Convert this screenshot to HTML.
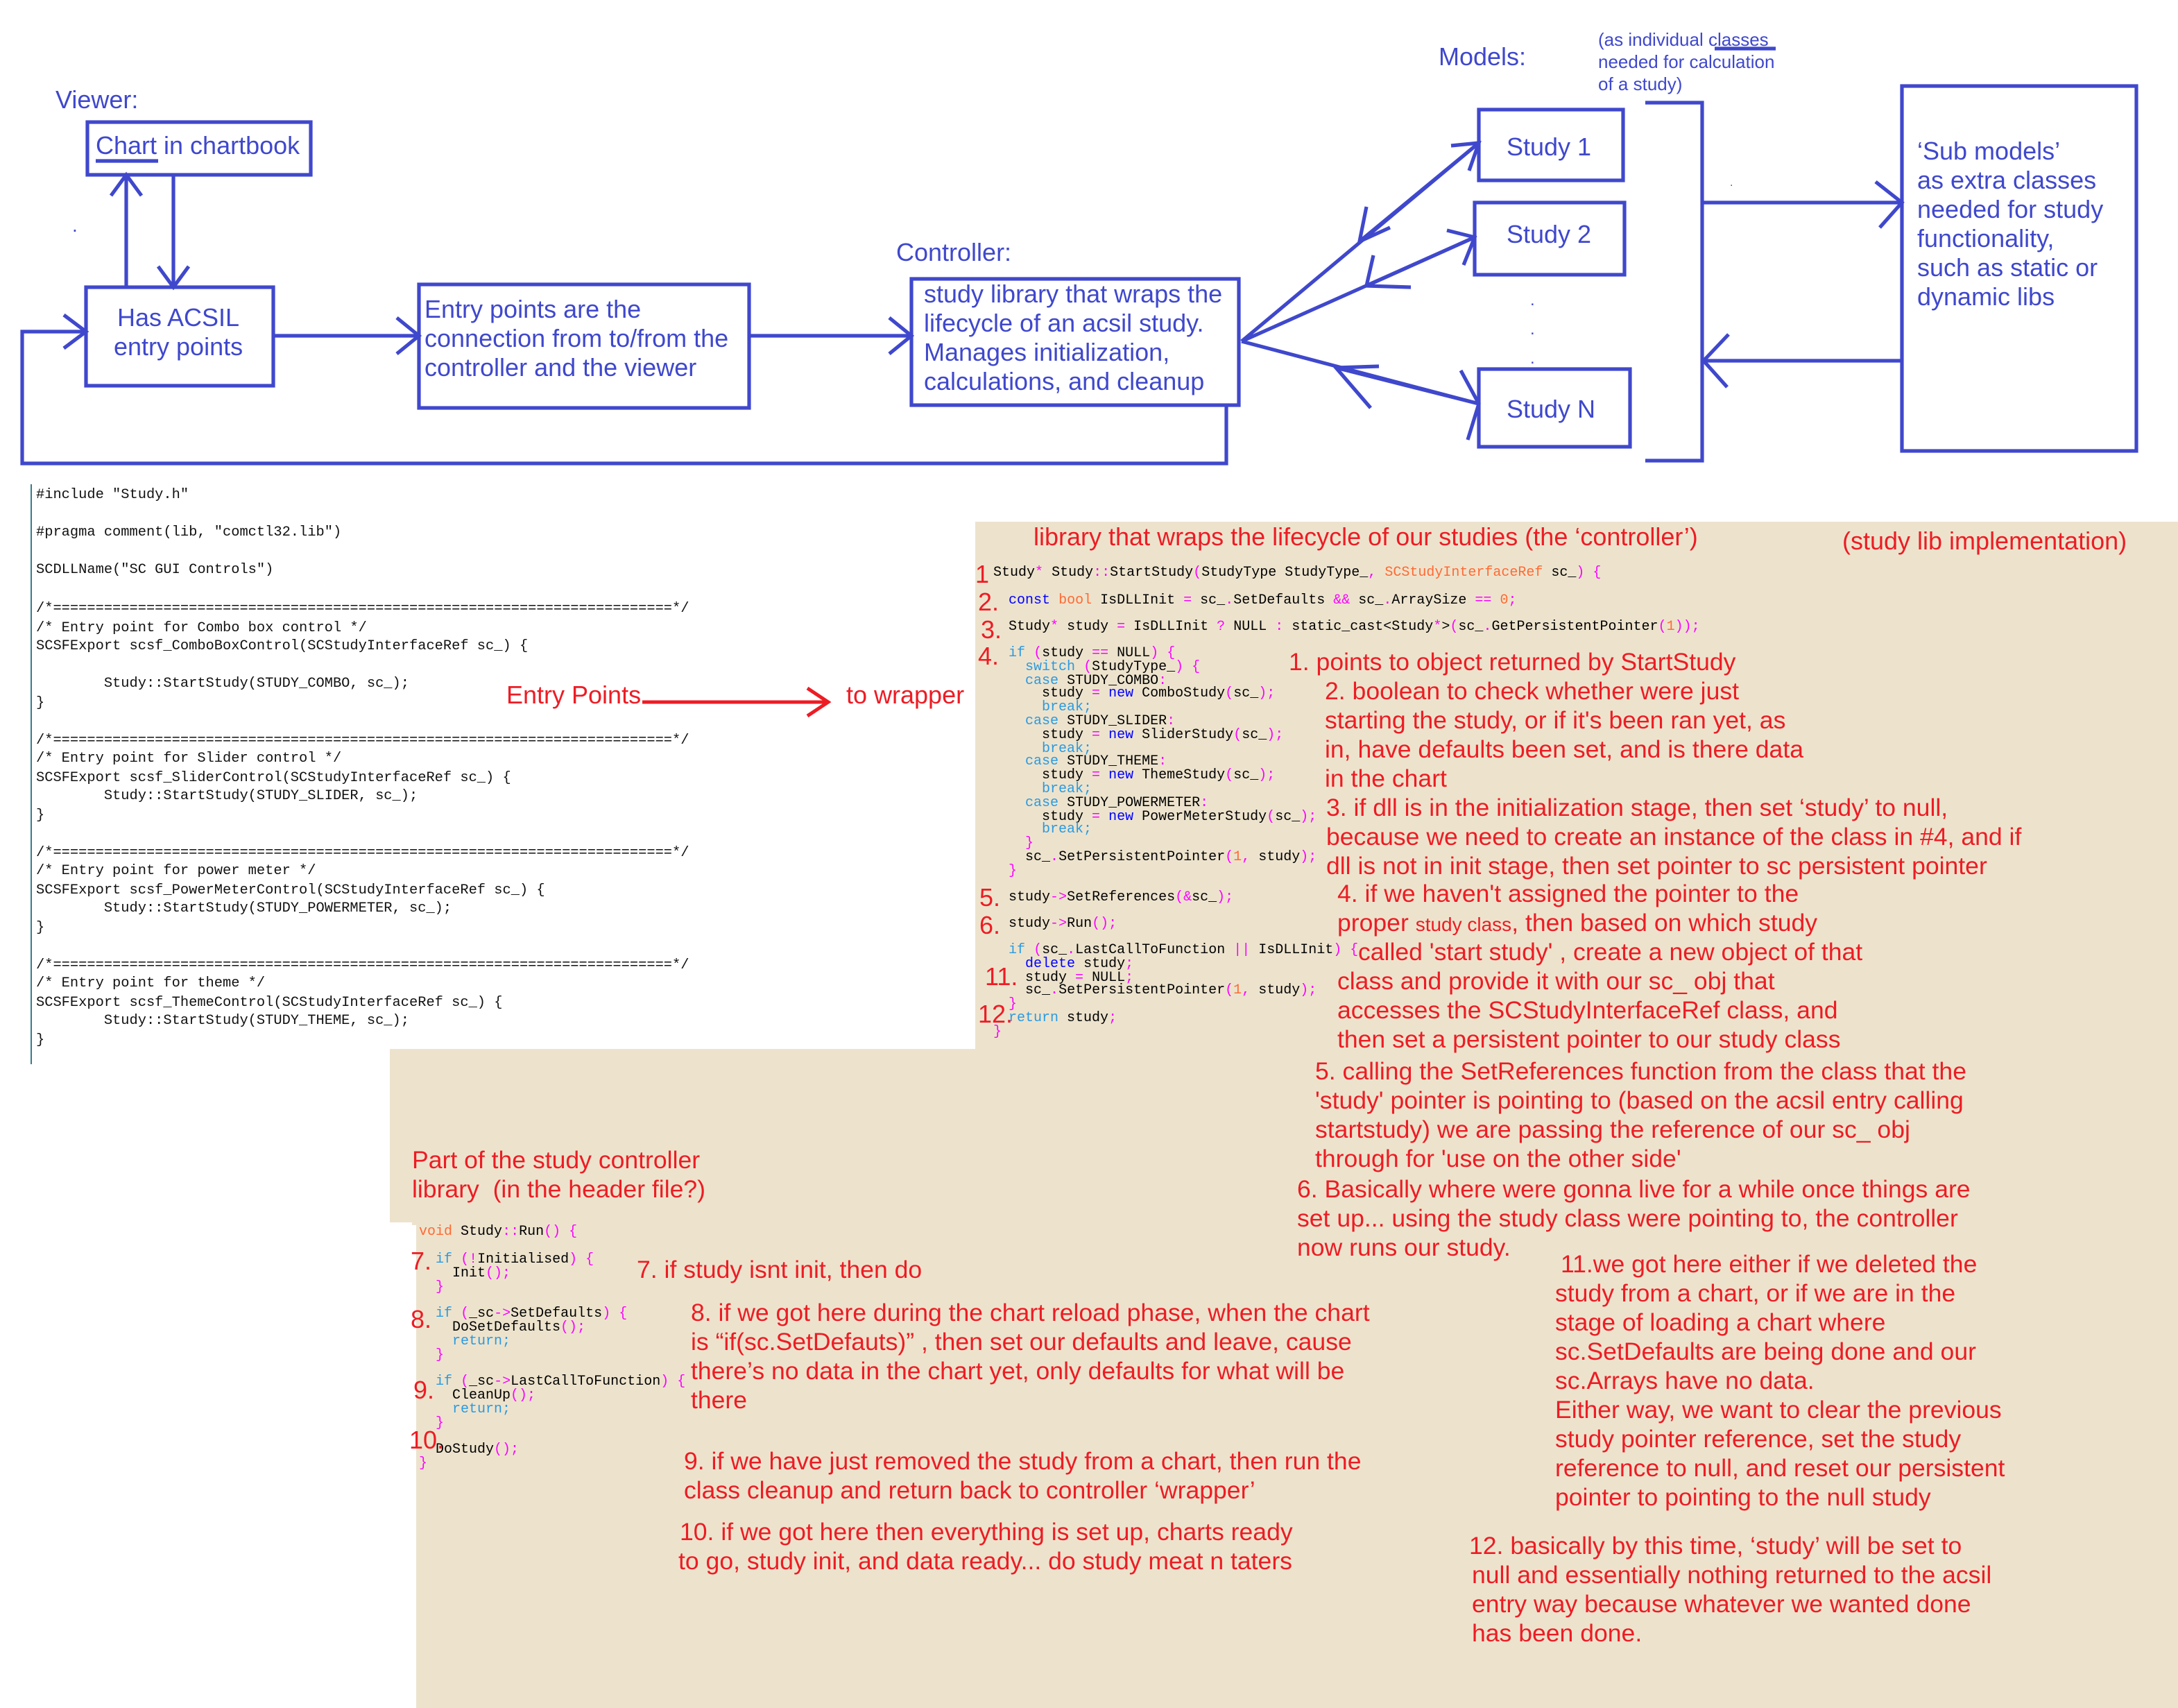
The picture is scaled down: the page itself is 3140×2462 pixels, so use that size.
<!DOCTYPE html>
<html><head><meta charset="utf-8">
<style>
html,body{margin:0;padding:0;background:#fff;}
body{width:3140px;height:2460px;overflow:hidden;position:relative;}
#c{position:absolute;left:0;top:0;width:1570px;height:1230px;transform:translateY(2px) scale(2);transform-origin:0 0;font-family:"Liberation Sans",sans-serif;}
.a{position:absolute;white-space:nowrap;}
.b{color:#3f48cc;font-size:18px;}
.r{color:#ed1c24;font-size:17.8px;line-height:21px;}
.m{font-family:"Liberation Mono",monospace;font-size:10px;color:#000;white-space:pre;position:absolute;}
.lc{font-family:"Liberation Mono",monospace;font-size:10.2px;color:#111;white-space:pre;position:absolute;left:26px;transform:scaleX(1.0);transform-origin:0 0;}
.k{color:#2a9ae0}.kb{color:#0000ff}.o{color:#ff6a33}.p{color:#ff00ff}
.n{position:absolute;color:#ed1c24;font-size:18px;}
.bg{position:absolute;background:#ede3cd;}
</style></head><body><div id="c">
<div class="bg" style="left:703px;top:375px;width:867px;height:390px"></div>
<div class="bg" style="left:281px;top:755px;width:1289px;height:127px"></div>
<div class="bg" style="left:300px;top:880px;width:1270px;height:350px"></div>

<svg class="a" style="left:0;top:0" width="1570" height="350" viewBox="0 0 1570 350" fill="none" stroke="#3f48cc" stroke-width="2.6">
<rect x="63" y="87" width="161" height="38"/>
<rect x="62" y="206" width="135" height="71"/>
<rect x="302" y="204" width="238" height="89"/>
<rect x="657" y="200" width="236" height="91"/>
<rect x="1066" y="78" width="104" height="51"/>
<rect x="1063" y="145" width="108" height="52"/>
<rect x="1066" y="265" width="109" height="56"/>
<rect x="1371" y="61" width="169" height="263"/>
<path d="M1186 73H1227V331H1186"/>
<path d="M1227 145H1371M1352 130L1371 145L1355 163"/>
<path d="M1371 259H1228M1246 240L1228 259L1245 278"/>
<path d="M895 245L1066 102M1046 104L1066 102L1059 122"/>
<path d="M1066 102L980 173M985 148L980 173L1002 163"/>
<path d="M895 245L1063 170M1043 165L1063 170L1055 190"/>
<path d="M1063 170L985 205M990 183L985 205L1017 206"/>
<path d="M895 245L1066 290M1053 266L1066 290L1058 316"/>
<path d="M1066 290L963 264M994 263L963 264L988 293"/>
<path d="M884 291V333H16V238H62M46 226L62 238L46 250"/>
<path d="M197 241H302M286 228L302 241L286 254"/>
<path d="M540 241H657M641 228L657 241L641 254"/>
<path d="M91 206V125M80 140L91 125L102 140"/>
<path d="M125 125V206M114 191L125 206L136 191"/>
<path d="M69 115H114M1236 34H1280"/>
</svg>
<div class="a" style="left:1103px;top:205px;color:#3f48cc;font-size:12px;line-height:21px">.<br>.<br>.</div>
<div class="a" style="left:1247px;top:126px;color:#3f48cc;font-size:8px">.</div>
<div class="a" style="left:52px;top:153px;color:#3f48cc;font-size:14px">.</div>

<div class="a b" style="left:40px;top:61px">Viewer:</div>
<div class="a b" style="left:69px;top:94px">Chart in chartbook</div>
<div class="a b" style="left:82px;top:218px;line-height:21px;text-align:center">Has ACSIL<br>entry points</div>
<div class="a b" style="left:306px;top:212px;line-height:21px">Entry points are the<br>connection from to/from the<br>controller and the viewer</div>
<div class="a b" style="left:646px;top:171px">Controller:</div>
<div class="a b" style="left:666px;top:201px;line-height:21px">study library that wraps the<br>lifecycle of an acsil study.<br>Manages initialization,<br>calculations, and cleanup</div>
<div class="a b" style="left:1037px;top:30px">Models:</div>
<div class="a" style="left:1152px;top:20px;color:#3f48cc;font-size:13px;line-height:16px">(as individual classes<br>needed for calculation<br>of a study)</div>
<div class="a b" style="left:1086px;top:95px">Study 1</div>
<div class="a b" style="left:1086px;top:158px">Study 2</div>
<div class="a b" style="left:1086px;top:284px">Study N</div>
<div class="a b" style="left:1382px;top:98px;line-height:21px">‘Sub models’<br>as extra classes<br>needed for study<br>functionality,<br>such as static or<br>dynamic libs</div>

<!-- left code -->
<div class="a" style="left:22px;top:348px;width:1px;height:418px;background:#3a7a8a"></div>
<div class="lc" style="top:351px">#include "Study.h"</div>
<div class="lc" style="top:378px">#pragma comment(lib, "comctl32.lib")</div>
<div class="lc" style="top:405px">SCDLLName("SC GUI Controls")</div>
<div class="lc" style="top:432px;line-height:13.5px">/*=========================================================================*/
/* Entry point for Combo box control */
SCSFExport scsf_ComboBoxControl(SCStudyInterfaceRef sc_) {

        Study::StartStudy(STUDY_COMBO, sc_);
}

/*=========================================================================*/
/* Entry point for Slider control */
SCSFExport scsf_SliderControl(SCStudyInterfaceRef sc_) {
        Study::StartStudy(STUDY_SLIDER, sc_);
}

/*=========================================================================*/
/* Entry point for power meter */
SCSFExport scsf_PowerMeterControl(SCStudyInterfaceRef sc_) {
        Study::StartStudy(STUDY_POWERMETER, sc_);
}

/*=========================================================================*/
/* Entry point for theme */
SCSFExport scsf_ThemeControl(SCStudyInterfaceRef sc_) {
        Study::StartStudy(STUDY_THEME, sc_);
}</div>

<div class="a r" style="left:365px;top:490px;font-size:18px">Entry Points</div>
<svg class="a" style="left:460px;top:490px" width="145" height="30" fill="none" stroke="#ed1c24" stroke-width="2.5"><path d="M3 15H137M122 5L137 15L122 25"/></svg>
<div class="a r" style="left:610px;top:490px;font-size:18px">to wrapper</div>

<!-- right code -->
<div class="a r" style="left:745px;top:376px;font-size:18px">library that wraps the lifecycle of our studies (the ‘controller’)</div>
<div class="a r" style="left:1328px;top:379px;font-size:18px">(study lib implementation)</div>
<div class="n" style="left:703px;top:403px">1</div>
<div class="n" style="left:705px;top:423px">2.</div>
<div class="n" style="left:707px;top:443px">3.</div>
<div class="n" style="left:705px;top:462px">4.</div>
<div class="n" style="left:706px;top:636px">5.</div>
<div class="n" style="left:706px;top:656px">6.</div>
<div class="n" style="left:710px;top:693px">11.</div>
<div class="n" style="left:705px;top:720px">12.</div>
<div class="m" style="left:716px;top:407px">Study<span class="p">*</span> Study<span class="p">::</span>StartStudy<span class="p">(</span>StudyType StudyType_<span class="p">,</span> <span class="o">SCStudyInterfaceRef</span> sc_<span class="p">) {</span></div>
<div class="m" style="left:727px;top:427px"><span class="kb">const</span> <span class="o">bool</span> IsDLLInit <span class="p">=</span> sc_<span class="p">.</span>SetDefaults <span class="p">&amp;&amp;</span> sc_<span class="p">.</span>ArraySize <span class="p">==</span> <span class="o">0</span><span class="p">;</span></div>
<div class="m" style="left:727px;top:446px">Study<span class="p">*</span> study <span class="p">=</span> IsDLLInit <span class="p">?</span> NULL <span class="p">:</span> static_cast&lt;Study<span class="p">*</span>&gt;<span class="p">(</span>sc_<span class="p">.</span>GetPersistentPointer<span class="p">(</span><span class="o">1</span><span class="p">));</span></div>
<div class="m" style="left:727px;top:466px;line-height:9.8px"><span class="k">if</span> <span class="p">(</span>study <span class="p">==</span> NULL<span class="p">) {</span>
  <span class="k">switch</span> <span class="p">(</span>StudyType_<span class="p">) {</span>
  <span class="k">case</span> STUDY_COMBO<span class="p">:</span>
    study <span class="p">=</span> <span class="kb">new</span> ComboStudy<span class="p">(</span>sc_<span class="p">);</span>
    <span class="k">break;</span>
  <span class="k">case</span> STUDY_SLIDER<span class="p">:</span>
    study <span class="p">=</span> <span class="kb">new</span> SliderStudy<span class="p">(</span>sc_<span class="p">);</span>
    <span class="k">break;</span>
  <span class="k">case</span> STUDY_THEME<span class="p">:</span>
    study <span class="p">=</span> <span class="kb">new</span> ThemeStudy<span class="p">(</span>sc_<span class="p">);</span>
    <span class="k">break;</span>
  <span class="k">case</span> STUDY_POWERMETER<span class="p">:</span>
    study <span class="p">=</span> <span class="kb">new</span> PowerMeterStudy<span class="p">(</span>sc_<span class="p">);</span>
    <span class="k">break;</span>
  <span class="p">}</span>
  sc_<span class="p">.</span>SetPersistentPointer<span class="p">(</span><span class="o">1</span><span class="p">,</span> study<span class="p">);</span>
<span class="p">}</span></div>
<div class="m" style="left:727px;top:641px">study<span class="p">-&gt;</span>SetReferences<span class="p">(&amp;</span>sc_<span class="p">);</span></div>
<div class="m" style="left:727px;top:660px">study<span class="p">-&gt;</span>Run<span class="p">();</span></div>
<div class="m" style="left:727px;top:680px;line-height:9.8px"><span class="k">if</span> <span class="p">(</span>sc_<span class="p">.</span>LastCallToFunction <span class="p">||</span> IsDLLInit<span class="p">) {</span>
  <span class="kb">delete</span> study<span class="p">;</span>
  study <span class="p">=</span> NULL<span class="p">;</span>
  sc_<span class="p">.</span>SetPersistentPointer<span class="p">(</span><span class="o">1</span><span class="p">,</span> study<span class="p">);</span>
<span class="p">}</span>
<span class="k">return</span> study<span class="p">;</span></div>
<div class="m" style="left:716px;top:738px"><span class="p">}</span></div>

<div class="a r" style="left:929px;top:466px">1. points to object returned by StartStudy</div>
<div class="a r" style="left:955px;top:487px">2. boolean to check whether were just<br>starting the study, or if it's been ran yet, as<br>in, have defaults been set, and is there data<br>in the chart</div>
<div class="a r" style="left:956px;top:571px">3. if dll is in the initialization stage, then set ‘study’ to null,<br>because we need to create an instance of the class in #4, and if<br>dll is not in init stage, then set pointer to sc persistent pointer</div>
<div class="a r" style="left:964px;top:633px">4. if we haven't assigned the pointer to the<br>proper <span style="font-size:14px">study class</span>, then based on which study</div>
<div class="a r" style="left:979px;top:675px">called 'start study' , create a new object of that</div>
<div class="a r" style="left:964px;top:696px">class and provide it with our sc_ obj that<br>accesses the SCStudyInterfaceRef class, and<br>then set a persistent pointer to our study class</div>
<div class="a r" style="left:948px;top:761px">5. calling the SetReferences function from the class that the<br>'study' pointer is pointing to (based on the acsil entry calling<br>startstudy) we are passing the reference of our sc_ obj<br>through for 'use on the other side'</div>
<div class="a r" style="left:935px;top:846px">6. Basically where were gonna live for a while once things are<br>set up... using the study class were pointing to, the controller<br>now runs our study.</div>
<div class="a r" style="left:1125px;top:900px">11.we got here either if we deleted the</div>
<div class="a r" style="left:1121px;top:921px">study from a chart, or if we are in the<br>stage of loading a chart where<br>sc.SetDefaults are being done and our<br>sc.Arrays have no data.<br>Either way, we want to clear the previous<br>study pointer reference, set the study<br>reference to null, and reset our persistent<br>pointer to pointing to the null study</div>
<div class="a r" style="left:1059px;top:1103px">12. basically by this time, ‘study’ will be set to</div>
<div class="a r" style="left:1061px;top:1124px">null and essentially nothing returned to the acsil<br>entry way because whatever we wanted done<br>has been done.</div>

<!-- run code -->
<div class="a r" style="left:297px;top:825px">Part of the study controller<br>library&nbsp; (in the header file?)</div>
<div class="a" style="left:281px;top:880px;width:16px;height:195px;background:#fff"></div>
<div class="n" style="left:296px;top:898px">7.</div>
<div class="n" style="left:296px;top:940px">8.</div>
<div class="n" style="left:298px;top:991px">9.</div>
<div class="n" style="left:295px;top:1027px">10.</div>
<div class="m" style="left:302px;top:883px;line-height:9.8px"><span class="o">void</span> Study<span class="p">::</span>Run<span class="p">() {</span></div>
<div class="m" style="left:314px;top:903px;line-height:9.8px"><span class="k">if</span> <span class="p">(!</span>Initialised<span class="p">) {</span>
  Init<span class="p">();</span>
<span class="p">}</span>

<span class="k">if</span> <span class="p">(</span>_sc<span class="p">-&gt;</span>SetDefaults<span class="p">) {</span>
  DoSetDefaults<span class="p">();</span>
  <span class="k">return;</span>
<span class="p">}</span>

<span class="k">if</span> <span class="p">(</span>_sc<span class="p">-&gt;</span>LastCallToFunction<span class="p">) {</span>
  CleanUp<span class="p">();</span>
  <span class="k">return;</span>
<span class="p">}</span>

DoStudy<span class="p">();</span></div>
<div class="m" style="left:302px;top:1049px"><span class="p">}</span></div>

<div class="a r" style="left:459px;top:904px">7. if study isnt init, then do</div>
<div class="a r" style="left:498px;top:935px">8. if we got here during the chart reload phase, when the chart<br>is “if(sc.SetDefauts)” , then set our defaults and leave, cause<br>there’s no data in the chart yet, only defaults for what will be<br>there</div>
<div class="a r" style="left:493px;top:1042px">9. if we have just removed the study from a chart, then run the<br>class cleanup and return back to controller ‘wrapper’</div>
<div class="a r" style="left:490px;top:1093px">10. if we got here then everything is set up, charts ready</div>
<div class="a r" style="left:489px;top:1114px">to go, study init, and data ready... do study meat n taters</div>
</div></body></html>
